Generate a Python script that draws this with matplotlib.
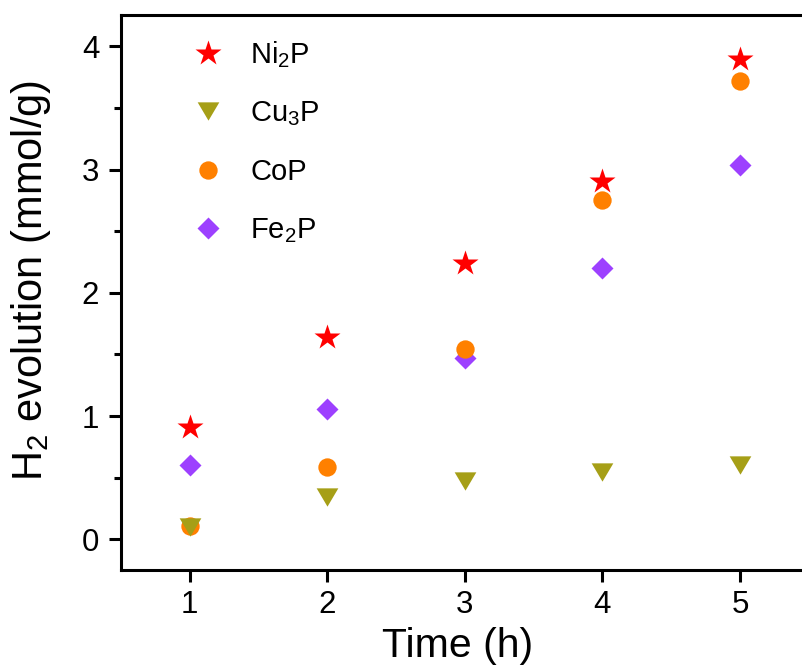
import numpy as np
import matplotlib.pyplot as plt

plt.rcParams['font.family'] = ['Liberation Sans', 'DejaVu Sans']
plt.rcParams['mathtext.fontset'] = 'custom'
plt.rcParams['mathtext.rm'] = 'Liberation Sans'
plt.rcParams['mathtext.it'] = 'Liberation Sans:italic'
plt.rcParams['mathtext.bf'] = 'Liberation Sans:bold'
plt.rcParams['mathtext.default'] = 'rm'

# reaction time (h)
time_h = [1, 2, 3, 4, 5]

# H2 evolution (mmol/g) per catalyst
ni2p = [0.91, 1.64, 2.24, 2.91, 3.90]
cu3p = [0.10, 0.34, 0.475, 0.55, 0.60]
cop = [0.105, 0.585, 1.54, 2.75, 3.72]
fe2p = [0.60, 1.06, 1.47, 2.20, 3.04]

labels = ['Ni$_2$P', 'Cu$_3$P', 'CoP', 'Fe$_2$P']

# wide, flat downward triangle
tri_down = [(-1, 0.845), (1, 0.845), (0, -0.845), (-1, 0.845)]

fig = plt.figure(figsize=(8.02, 6.70), dpi=100)
ax = fig.add_axes([0.1505, 0.149, 0.858, 0.828])

ax.plot(time_h, ni2p, ls='none', marker='*', ms=19, color='#ff0000', mec='none',
        label=labels[0], zorder=5)
ax.plot(time_h, cu3p, ls='none', marker=tri_down, ms=15.6, color='#a69f17', mec='none',
        label=labels[1], zorder=4)
ax.plot(time_h, cop, ls='none', marker='o', ms=13.2, color='#ff8000', mec='none',
        label=labels[2], zorder=3)
ax.plot(time_h, fe2p, ls='none', marker='D', ms=11.5, color='#9d40ff', mec='none',
        label=labels[3], zorder=2)

ax.set_xlim(0.5, 5.5)
ax.set_ylim(-0.25, 4.25)
ax.set_xticks([1, 2, 3, 4, 5])
ax.set_yticks([0, 1, 2, 3, 4])
ax.set_yticks(np.arange(0.5, 4.0, 1.0), minor=True)

for s in ax.spines.values():
    s.set_linewidth(2.2)
ax.tick_params(which='major', direction='out', length=8.5, width=2.2, labelsize=22.5)
ax.tick_params(which='minor', direction='out', length=5, width=2.2)
ax.tick_params(axis='x', pad=6)
ax.tick_params(axis='y', pad=7)

ax.set_xlabel('Time (h)', fontsize=29.5)
ax.set_ylabel('H$_2$ evolution (mmol/g)', fontsize=30)
ax.xaxis.set_label_coords(0.489, -0.102)
ax.yaxis.set_label_coords(-0.098, 0.5225)

ax.legend(loc='upper left', bbox_to_anchor=(0.106, 0.9575), frameon=False,
          fontsize=21, borderaxespad=0, borderpad=0, handlelength=1.0,
          handletextpad=0.94, labelspacing=1.02)

fig.savefig('out.png', dpi=100)
